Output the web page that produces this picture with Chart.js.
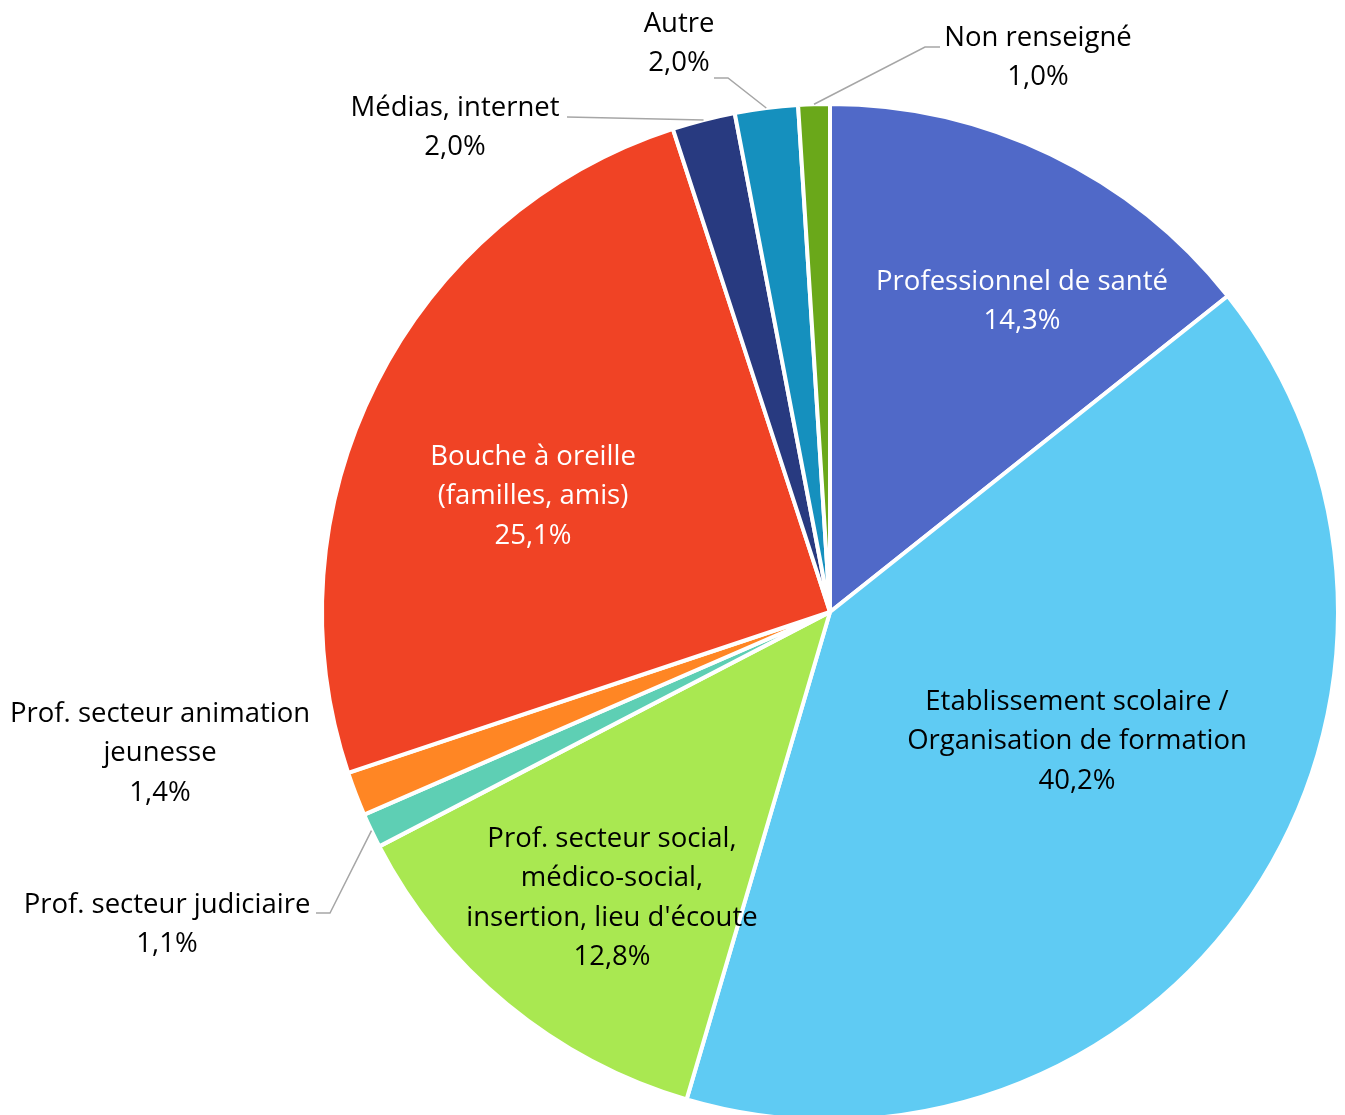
<!DOCTYPE html>
<html>
<head>
<meta charset="utf-8">
<script src="https://cdn.jsdelivr.net/npm/chart.js@4.4.0/dist/chart.umd.min.js"></script>
<style>
  html, body { margin: 0; padding: 0; background: #fff; overflow: hidden; }
  #wrap { width: 1345px; height: 1130px; }
</style>
</head>
<body>
<div id="wrap"><canvas id="c" width="1345" height="1130"></canvas></div>
<script>
// Données (en %)
const categories = [
  'Professionnel de santé',
  'Etablissement scolaire / Organisation de formation',
  'Prof. secteur social, médico-social, insertion, lieu d\'écoute',
  'Prof. secteur judiciaire',
  'Prof. secteur animation jeunesse',
  'Bouche à oreille (familles, amis)',
  'Médias, internet',
  'Autre',
  'Non renseigné'
];
const values = [14.3, 40.2, 12.8, 1.1, 1.4, 25.1, 2.0, 2.0, 1.0];
const colors = ['#5069C8', '#5FCBF3', '#A9E851', '#5ECFB4', '#FF8624', '#F04325', '#283A80', '#1590BE', '#6AA81A'];

// Etiquettes : lignes de texte, position du bloc, couleur, coude éventuel de la ligne de rappel
const labelLines = [
  ['Professionnel de santé'],
  ['Etablissement scolaire /', 'Organisation de formation'],
  ['Prof. secteur social,', 'médico-social,', 'insertion, lieu d\'écoute'],
  ['Prof. secteur judiciaire'],
  ['Prof. secteur animation', 'jeunesse'],
  ['Bouche à oreille', '(familles, amis)'],
  ['Médias, internet'],
  ['Autre'],
  ['Non renseigné']
];
const labelLayout = [
  { x: 1022, y: 282, color: '#fff' },
  { x: 1077, y: 702, color: '#000' },
  { x: 612, y: 839, color: '#000' },
  { x: 167, y: 905, color: '#000', elbow: [330, 913], end: [316, 913] },
  { x: 160, y: 714, color: '#000' },
  { x: 533, y: 457, color: '#fff' },
  { x: 455, y: 108, color: '#000', elbow: [567, 117], end: [567, 117] },
  { x: 679, y: 24, color: '#000', elbow: [728, 78], end: [714, 78] },
  { x: 1038, y: 38, color: '#000', elbow: [925, 47], end: [940, 47] }
];

const fmt = v => v.toFixed(1).replace('.', ',') + '%';

const labelPlugin = {
  id: 'pieLabels',
  afterDatasetsDraw(chart) {
    const ctx = chart.ctx;
    const arcs = chart.getDatasetMeta(0).data;
    ctx.save();
    ctx.font = '27.5px "Open Sans", sans-serif';
    ctx.textAlign = 'center';
    ctx.textBaseline = 'middle';
    arcs.forEach((arc, i) => {
      const lay = labelLayout[i];
      if (lay.elbow) {
        const mid = (arc.startAngle + arc.endAngle) / 2;
        const sx = arc.x + Math.cos(mid) * arc.outerRadius;
        const sy = arc.y + Math.sin(mid) * arc.outerRadius;
        ctx.strokeStyle = '#A6A6A6';
        ctx.lineWidth = 1.5;
        ctx.beginPath();
        ctx.moveTo(sx, sy);
        ctx.lineTo(lay.elbow[0], lay.elbow[1]);
        ctx.lineTo(lay.end[0], lay.end[1]);
        ctx.stroke();
      }
      const lines = labelLines[i].concat([fmt(values[i])]);
      ctx.fillStyle = lay.color;
      lines.forEach((t, k) => ctx.fillText(t, lay.x, lay.y + k * 39.5));
    });
    ctx.restore();
  }
};

new Chart(document.getElementById('c'), {
  type: 'pie',
  data: {
    labels: categories,
    datasets: [{
      data: values,
      backgroundColor: colors,
      borderColor: '#fff',
      borderWidth: 4
    }]
  },
  options: {
    responsive: false,
    animation: false,
    layout: { padding: { left: 320, right: 5, top: 102, bottom: 8 } },
    plugins: { legend: { display: false }, tooltip: { enabled: false } }
  },
  plugins: [labelPlugin]
});
</script>
</body>
</html>
